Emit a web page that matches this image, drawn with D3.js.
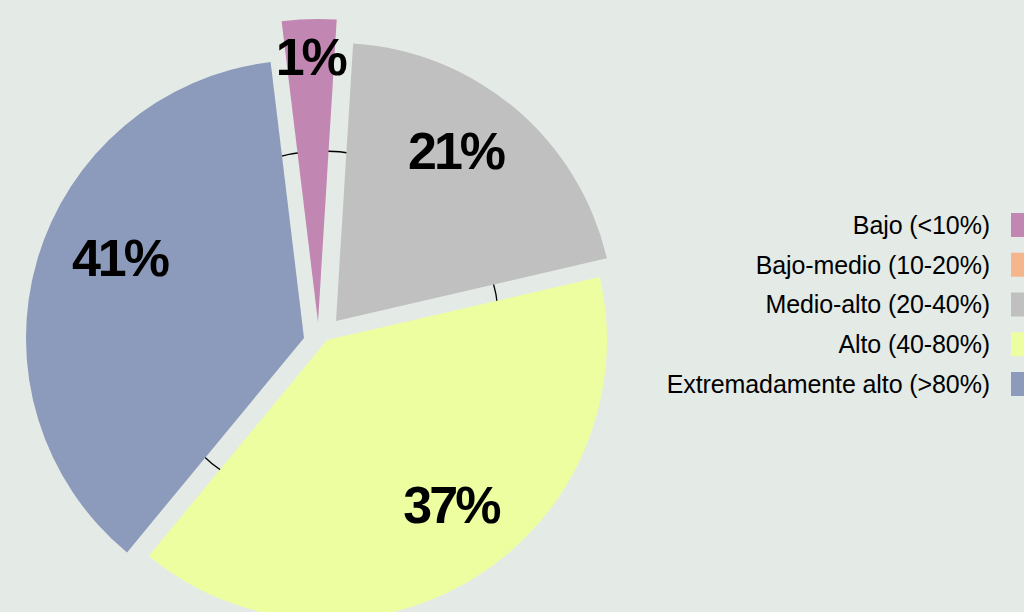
<!DOCTYPE html>
<html><head><meta charset="utf-8">
<script src="https://cdn.jsdelivr.net/npm/d3@7"></script>
<style>html,body{margin:0;padding:0;background:#e4eae6;} svg{display:block}</style>
</head><body><svg id="c" width="1024" height="612"></svg>
<script>
// ---- data ----
const categories = ["Bajo (<10%)","Bajo-medio (10-20%)","Medio-alto (20-40%)","Alto (40-80%)","Extremadamente alto (>80%)"];
const values = [2.9, 0, 20.4, 39.6, 37.1];
const valueLabels = ["1%","0%","21%","37%","41%"];
const colors = ["#c186b1","#f6b68c","#c0c0c0","#edfea0","#8c9abb"];

// ---- layout ----
const W=1024,H=612;
const deg = Math.PI/180;
const cx=323, cy=327;
const shift = [[-5,-5],[0,0],[13,-6],[4,13],[-19,11]];
const outerR = [303,278,278,280,278];
const labelR = [264,0,207,207,201];
const labelTurn = [0,0,-5,-5,7];

const svg = d3.select("#c");
svg.append("rect").attr("width",W).attr("height",H).attr("fill","#e4eae6");

const pie = d3.pie().sort(null).value(d=>d).startAngle(-6.9*deg).endAngle(353.1*deg);
const arcsData = pie(values);

const g = svg.append("g").attr("transform",`translate(${cx},${cy})`);
g.append("circle").attr("r",176).attr("fill","none").attr("stroke","#000").attr("stroke-width",1.3);

const slices = g.selectAll("g.slice").data(arcsData).enter().append("g")
  .attr("class","slice")
  .attr("transform",(d,i)=>`translate(${shift[i][0]},${shift[i][1]})`);

slices.filter(d=>d.value>0).append("path")
  .attr("d",(d,i)=>d3.arc().innerRadius(0).outerRadius(outerR[d.index])(d))
  .attr("fill",d=>colors[d.index]);

slices.filter(d=>d.value>0).append("text")
  .attr("transform",d=>{
    const a=(d.startAngle+d.endAngle)/2 + labelTurn[d.index]*deg;
    const r=labelR[d.index];
    return `translate(${r*Math.sin(a)},${-r*Math.cos(a)})`;
  })
  .attr("text-anchor","middle").attr("dy","0.33em")
  .attr("font-family","'Liberation Sans', Arial, sans-serif")
  .attr("font-weight","bold").attr("font-size",52).attr("letter-spacing",-3)
  .attr("fill","#000")
  .text(d=>valueLabels[d.index]);

// ---- legend ----
const ly = d3.scalePoint().domain(categories).range([225,384]);
const leg = svg.append("g");
leg.selectAll("rect").data(categories).enter().append("rect")
  .attr("x",1011).attr("y",d=>ly(d)-12).attr("width",24).attr("height",24)
  .attr("fill",(d,i)=>colors[i]);
leg.selectAll("text").data(categories).enter().append("text")
  .attr("x",990).attr("y",d=>ly(d)).attr("dy","0.35em")
  .attr("text-anchor","end")
  .attr("font-family","'Liberation Sans', Arial, sans-serif")
  .attr("font-size",25).attr("letter-spacing",-0.1).attr("fill","#000")
  .text(d=>d);
</script></body></html>
